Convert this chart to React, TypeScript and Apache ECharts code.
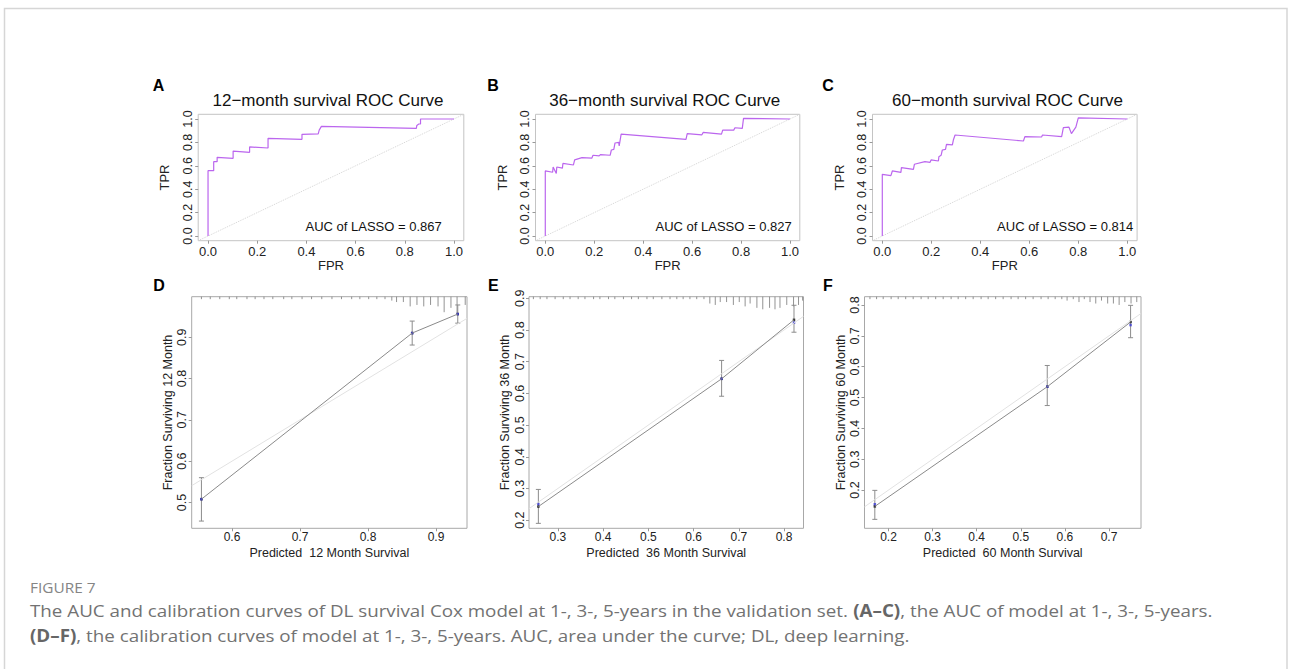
import React, { useEffect, useRef } from "react";
import * as echarts from "echarts";

// ---------------- DATA ----------------
const rocTitles = ["12−month survival ROC Curve", "36−month survival ROC Curve", "60−month survival ROC Curve"];
const rocAucLabels = ["AUC of LASSO = 0.867", "AUC of LASSO = 0.827", "AUC of LASSO = 0.814"];
const rocTicks = [0, 0.2, 0.4, 0.6, 0.8, 1.0];

const roc12 = [
  [0, 0], [0, 0.558], [0.023, 0.558], [0.023, 0.635], [0.037, 0.635], [0.037, 0.672],
  [0.102, 0.664], [0.102, 0.726], [0.169, 0.715], [0.169, 0.761], [0.244, 0.752], [0.244, 0.835],
  [0.382, 0.826], [0.382, 0.869], [0.448, 0.872], [0.452, 0.905], [0.461, 0.937], [0.847, 0.92],
  [0.849, 0.945], [0.857, 0.957], [0.864, 0.957], [0.864, 1.0], [1, 1],
];
const roc36 = [
  [0, 0], [0, 0.556], [0.03, 0.545], [0.032, 0.59], [0.045, 0.535], [0.047, 0.59], [0.07, 0.58],
  [0.072, 0.62], [0.115, 0.607], [0.12, 0.65], [0.15, 0.67], [0.19, 0.665], [0.195, 0.69],
  [0.22, 0.685], [0.225, 0.695], [0.265, 0.69], [0.27, 0.735], [0.28, 0.74], [0.285, 0.795],
  [0.3, 0.8], [0.302, 0.77], [0.31, 0.87], [0.575, 0.825], [0.58, 0.875], [0.64, 0.865],
  [0.645, 0.885], [0.72, 0.87], [0.725, 0.905], [0.77, 0.905], [0.775, 0.925], [0.805, 0.92],
  [0.81, 1.005], [1, 1],
];
const roc60 = [
  [0, 0], [0, 0.527], [0.035, 0.516], [0.041, 0.556], [0.076, 0.544], [0.078, 0.584], [0.127, 0.57],
  [0.131, 0.613], [0.174, 0.635], [0.195, 0.63], [0.199, 0.65], [0.229, 0.641], [0.231, 0.678],
  [0.24, 0.69], [0.245, 0.735], [0.258, 0.74], [0.262, 0.783], [0.286, 0.778], [0.29, 0.82],
  [0.297, 0.863], [0.576, 0.812], [0.582, 0.849], [0.65, 0.846], [0.654, 0.863], [0.732, 0.849],
  [0.739, 0.926], [0.762, 0.93], [0.772, 0.875], [0.79, 0.93], [0.8, 1.01], [1, 1],
];

const calMonths = ["12", "36", "60"];

const calPred12 = [0.555, 0.865, 0.932];
const calObs12 = [0.508, 0.91, 0.956];
const calCorr12 = [0.508, 0.91, 0.956];
const calLo12 = [0.455, 0.881, 0.934];
const calHi12 = [0.56, 0.939, 0.978];

const calPred36 = [0.257, 0.662, 0.822];
const calObs36 = [0.243, 0.646, 0.832];
const calCorr36 = [0.251, 0.646, 0.823];
const calLo36 = [0.19, 0.591, 0.793];
const calHi36 = [0.297, 0.704, 0.878];

const calPred60 = [0.169, 0.56, 0.749];
const calObs60 = [0.147, 0.535, 0.745];
const calCorr60 = [0.154, 0.535, 0.735];
const calLo60 = [0.105, 0.474, 0.694];
const calHi60 = [0.199, 0.604, 0.799];

const calXTicks12 = [0.6, 0.7, 0.8, 0.9];
const calYTicks12 = [0.5, 0.6, 0.7, 0.8, 0.9];
const calXTicks36 = [0.3, 0.4, 0.5, 0.6, 0.7, 0.8];
const calYTicks36 = [0.2, 0.3, 0.4, 0.5, 0.6, 0.7, 0.8, 0.9];
const calXTicks60 = [0.2, 0.3, 0.4, 0.5, 0.6, 0.7];
const calYTicks60 = [0.2, 0.3, 0.4, 0.5, 0.6, 0.7, 0.8];

// spike histogram of predicted survival (top rug): position and count
const rugPred12 = [0.555, 0.568, 0.582, 0.596, 0.607, 0.622, 0.634, 0.647, 0.66, 0.676, 0.688, 0.703, 0.717, 0.732, 0.747, 0.761, 0.776, 0.788, 0.801, 0.813, 0.825, 0.835, 0.842, 0.852, 0.862, 0.872, 0.882, 0.892, 0.903, 0.912, 0.922, 0.931, 0.943];
const rugCount12 = [1, 1, 1, 1, 1, 1, 1, 1, 1, 1, 1, 1, 1, 1, 1, 1, 1, 1, 1, 1, 1, 2, 3, 3, 6, 5, 6, 5, 6, 10, 7, 11, 5];
const rugPred36 = [0.246, 0.261, 0.276, 0.294, 0.312, 0.327, 0.345, 0.36, 0.379, 0.393, 0.412, 0.426, 0.445, 0.463, 0.478, 0.497, 0.511, 0.53, 0.548, 0.563, 0.577, 0.592, 0.607, 0.623, 0.636, 0.648, 0.659, 0.673, 0.688, 0.701, 0.714, 0.725, 0.74, 0.753, 0.768, 0.78, 0.791, 0.806, 0.821, 0.832, 0.841];
const rugCount36 = [1, 1, 1, 1, 1, 1, 1, 1, 1, 1, 1, 1, 1, 1, 1, 1, 1, 1, 1, 1, 1, 1, 1, 1, 4, 5, 3, 3, 5, 3, 6, 4, 7, 8, 7, 8, 7, 5, 6, 5, 2];
const rugPred60 = [0.158, 0.173, 0.188, 0.206, 0.222, 0.239, 0.256, 0.274, 0.29, 0.307, 0.324, 0.342, 0.358, 0.375, 0.392, 0.41, 0.426, 0.443, 0.46, 0.478, 0.494, 0.511, 0.528, 0.546, 0.562, 0.578, 0.593, 0.605, 0.619, 0.632, 0.644, 0.657, 0.67, 0.683, 0.697, 0.71, 0.723, 0.736, 0.75, 0.763];
const rugCount60 = [1, 1, 1, 1, 1, 1, 1, 1, 1, 1, 1, 1, 1, 1, 1, 1, 1, 1, 1, 1, 1, 1, 1, 1, 1, 1, 1, 2, 1, 3, 1, 3, 4, 2, 4, 4, 5, 3, 4, 3];

const panelLetters = ["A", "B", "C", "D", "E", "F"];
const figureLabel = "FIGURE 7";
const captionLine1 = "The AUC and calibration curves of DL survival Cox model at 1-, 3-, 5-years in the validation set. {b|(A–C)}, the AUC of model at 1-, 3-, 5-years.";
const captionLine2 = "{b|(D–F)}, the calibration curves of model at 1-, 3-, 5-years. AUC, area under the curve; DL, deep learning.";

// ---------------- LAYOUT ----------------
const FONT = "'Liberation Sans', Arial, Helvetica, sans-serif";
const CAP_FONT = "'Open Sans', 'Noto Sans', sans-serif";

const rocGrid = [
  { left: 198.2, top: 114.3, width: 265.6, height: 126.4 },
  { left: 535.5, top: 114.3, width: 264.3, height: 126.4 },
  { left: 872.5, top: 114.3, width: 264.6, height: 126.4 },
];
const rocRange = [-0.04, 1.04];
const rocTitlePos = [[328, 100], [664.7, 100], [1007.5, 100]];
const rocAucPos = [[441.7, 226], [791.7, 226], [1133.3, 226]];

const calGrid = [
  { left: 191.7, top: 296.7, width: 275.3, height: 231.6 },
  { left: 529, top: 296.7, width: 274.5, height: 231.6 },
  { left: 864.5, top: 296.7, width: 276.5, height: 231.6 },
];
const calXRange = [[0.5407, 0.9456], [0.2363, 0.843], [0.1456, 0.7726]];
const calYRange = [[0.4375, 0.998], [0.1744, 0.905], [0.076, 0.827]];
const letterPos = [[152.7, 85], [487.3, 85], [822.3, 85], [153.3, 285], [488, 285], [823, 285]];

function buildOption() {
  const grids: any[] = [];
  const xAxes: any[] = [];
  const yAxes: any[] = [];
  const series: any[] = [];
  const graphics: any[] = [];

  const fmt = (v: number) => v.toFixed(1);
  const noLine = { show: false, onZero: false };

  // ROC panels
  const rocData = [roc12, roc36, roc60];
  rocGrid.forEach((g, i) => {
    grids.push({ ...g, show: true, borderColor: "#c4c4c4", borderWidth: 1, backgroundColor: "transparent" });
    xAxes.push({
      gridIndex: i, type: "value", min: rocRange[0], max: rocRange[1], position: "bottom",
      name: "FPR", nameLocation: "middle", nameGap: 18,
      nameTextStyle: { fontFamily: FONT, fontSize: 13, color: "#222" },
      axisLine: noLine, splitLine: { show: false },
      axisTick: { show: true, customValues: rocTicks, length: 3, lineStyle: { color: "#999", width: 1 } },
      axisLabel: { customValues: rocTicks, formatter: fmt, margin: 4, fontFamily: FONT, fontSize: 13, color: "#222" },
    });
    yAxes.push({
      gridIndex: i, type: "value", min: rocRange[0], max: rocRange[1], position: "left",
      name: "TPR", nameLocation: "middle", nameGap: 27,
      nameTextStyle: { fontFamily: FONT, fontSize: 13, color: "#222" },
      axisLine: noLine, splitLine: { show: false },
      axisTick: { show: true, customValues: rocTicks, length: 3, lineStyle: { color: "#999", width: 1 } },
      axisLabel: { customValues: rocTicks, formatter: fmt, margin: 4, rotate: 90, fontFamily: FONT, fontSize: 12.5, color: "#222" },
    });
    series.push({
      type: "line", xAxisIndex: i, yAxisIndex: i, silent: true, symbol: "none",
      data: [[rocRange[0], rocRange[0]], [rocRange[1], rocRange[1]]],
      lineStyle: { color: "#d4d4d4", width: 1, type: "dotted" },
    });
    series.push({
      type: "line", xAxisIndex: i, yAxisIndex: i, symbol: "none",
      data: rocData[i],
      lineStyle: { color: "#bb66ee", width: 1.2 },
    });
    graphics.push({
      type: "text", x: rocTitlePos[i][0], y: rocTitlePos[i][1],
      style: { text: rocTitles[i], fontFamily: FONT, fontSize: 17, fill: "#111", align: "center", verticalAlign: "middle" },
    });
    graphics.push({
      type: "text", x: rocAucPos[i][0], y: rocAucPos[i][1],
      style: { text: rocAucLabels[i], fontFamily: FONT, fontSize: 13, fill: "#111", align: "right", verticalAlign: "middle" },
    });
  });

  // Calibration panels
  const cal = [
    { pred: calPred12, obs: calObs12, corr: calCorr12, lo: calLo12, hi: calHi12, xt: calXTicks12, yt: calYTicks12, rp: rugPred12, rc: rugCount12 },
    { pred: calPred36, obs: calObs36, corr: calCorr36, lo: calLo36, hi: calHi36, xt: calXTicks36, yt: calYTicks36, rp: rugPred36, rc: rugCount36 },
    { pred: calPred60, obs: calObs60, corr: calCorr60, lo: calLo60, hi: calHi60, xt: calXTicks60, yt: calYTicks60, rp: rugPred60, rc: rugCount60 },
  ];
  calGrid.forEach((g, k) => {
    const gi = 3 + k;
    const c = cal[k];
    const xr = calXRange[k];
    const yr = calYRange[k];
    grids.push({ ...g, show: true, borderColor: "#a8a8a8", borderWidth: 1, backgroundColor: "transparent" });
    xAxes.push({
      gridIndex: gi, type: "value", min: xr[0], max: xr[1], position: "bottom",
      name: "Predicted  " + calMonths[k] + " Month Survival", nameLocation: "middle", nameGap: 18.5,
      nameTextStyle: { fontFamily: FONT, fontSize: 12.5, color: "#222" },
      axisLine: noLine, splitLine: { show: false },
      axisTick: { show: true, customValues: c.xt, length: 3, lineStyle: { color: "#999", width: 1 } },
      axisLabel: { customValues: c.xt, formatter: fmt, margin: 3, fontFamily: FONT, fontSize: 12, color: "#222" },
    });
    yAxes.push({
      gridIndex: gi, type: "value", min: yr[0], max: yr[1], position: "left",
      name: "Fraction Surviving " + calMonths[k] + " Month", nameLocation: "middle", nameGap: 17.5,
      nameTextStyle: { fontFamily: FONT, fontSize: 12.5, color: "#222" },
      axisLine: noLine, splitLine: { show: false },
      axisTick: { show: true, customValues: c.yt, length: 3, lineStyle: { color: "#999", width: 1 } },
      axisLabel: { customValues: c.yt, formatter: fmt, margin: 3, rotate: 90, fontFamily: FONT, fontSize: 12.5, color: "#222" },
    });
    // ideal line (y = x) across the panel
    series.push({
      type: "line", xAxisIndex: gi, yAxisIndex: gi, silent: true, symbol: "none",
      data: [[xr[0], xr[0]], [xr[1], xr[1]]],
      lineStyle: { color: "#e2e2e2", width: 1 },
    });
    // top spike histogram
    series.push({
      type: "custom", xAxisIndex: gi, yAxisIndex: gi, silent: true,
      coordinateSystem: "cartesian2d", encode: { x: 0, y: 1 },
      data: c.rp.map((p, i) => [p, c.rc[i]]),
      renderItem: (_params: any, api: any) => {
        const p = api.coord([api.value(0), yr[1]]);
        const n = api.value(1);
        return {
          type: "line",
          shape: { x1: p[0], y1: p[1], x2: p[0], y2: p[1] + 1 + n * 1.45 },
          style: { stroke: "#777", lineWidth: 0.8 },
        };
      },
    });
    // error bars
    series.push({
      type: "custom", xAxisIndex: gi, yAxisIndex: gi, silent: true,
      coordinateSystem: "cartesian2d", encode: { x: 0, y: [1, 2] },
      data: c.pred.map((p, i) => [p, c.lo[i], c.hi[i]]),
      renderItem: (_params: any, api: any) => {
        const a = api.coord([api.value(0), api.value(1)]);
        const b = api.coord([api.value(0), api.value(2)]);
        const w = 2.5;
        const st = { stroke: "#8c8c8c", lineWidth: 1 };
        return {
          type: "group",
          children: [
            { type: "line", shape: { x1: a[0], y1: a[1], x2: b[0], y2: b[1] }, style: st },
            { type: "line", shape: { x1: a[0] - w, y1: a[1], x2: a[0] + w, y2: a[1] }, style: st },
            { type: "line", shape: { x1: b[0] - w, y1: b[1], x2: b[0] + w, y2: b[1] }, style: st },
          ],
        };
      },
    });
    // calibration line
    series.push({
      type: "line", xAxisIndex: gi, yAxisIndex: gi, symbol: "none",
      data: c.pred.map((p, i) => [p, c.obs[i]]),
      lineStyle: { color: "#8a8a8a", width: 1 },
    });
    series.push({
      type: "scatter", xAxisIndex: gi, yAxisIndex: gi, symbol: "rect", symbolSize: 2.5,
      data: c.pred.map((p, i) => [p, c.obs[i]]),
      itemStyle: { color: "#111" },
    });
    series.push({
      type: "scatter", xAxisIndex: gi, yAxisIndex: gi, symbol: "rect", symbolSize: 2.5,
      data: c.pred.map((p, i) => [p, c.corr[i]]),
      itemStyle: { color: "#3b3bd6" },
    });
  });

  panelLetters.forEach((l, i) => {
    graphics.push({
      type: "text", x: letterPos[i][0], y: letterPos[i][1],
      style: { text: l, fontFamily: FONT, fontSize: 16, fontWeight: "bold", fill: "#000", align: "left", verticalAlign: "middle" },
    });
  });

  // page frame and caption
  graphics.push({
    type: "rect", shape: { x: 4.5, y: 8.5, width: 1282.5, height: 700 },
    style: { fill: "none", stroke: "#d6d6d6", lineWidth: 1.5 }, silent: true,
  });
  graphics.push({
    type: "text", x: 30, y: 587, scaleX: 1.1,
    style: { text: figureLabel, fontFamily: CAP_FONT, fontSize: 14, fill: "#858585", align: "left", verticalAlign: "middle" },
  });
  const rich = { b: { fontWeight: "bold", fontFamily: CAP_FONT, fontSize: 17, fill: "#666" } };
  graphics.push({
    type: "text", x: 30, y: 610, scaleX: 1.105,
    style: { text: captionLine1, rich, fontFamily: CAP_FONT, fontSize: 17, fill: "#727272", align: "left", verticalAlign: "middle" },
  });
  graphics.push({
    type: "text", x: 30, y: 635, scaleX: 1.105,
    style: { text: captionLine2, rich, fontFamily: CAP_FONT, fontSize: 17, fill: "#727272", align: "left", verticalAlign: "middle" },
  });

  return {
    animation: false,
    backgroundColor: "#ffffff",
    grid: grids,
    xAxis: xAxes,
    yAxis: yAxes,
    series,
    graphic: graphics,
  };
}

export default function App() {
  const ref = useRef<HTMLDivElement>(null);
  useEffect(() => {
    document.body.style.margin = "0";
    const chart = echarts.init(ref.current as HTMLDivElement, null, { renderer: "svg" });
    chart.setOption(buildOption() as any);
    return () => chart.dispose();
  }, []);
  return <div ref={ref} style={{ width: 1290, height: 669 }} />;
}
